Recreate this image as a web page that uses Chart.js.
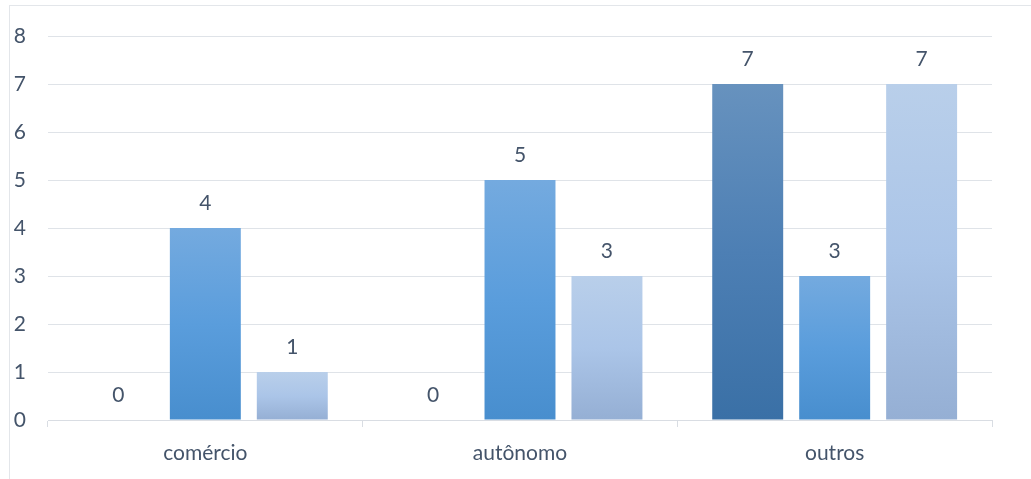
<!DOCTYPE html>
<html>
<head>
<meta charset="utf-8">
<script src="https://cdn.jsdelivr.net/npm/chart.js@4.4.1/dist/chart.umd.min.js"></script>
<style>
  html, body { margin: 0; padding: 0; background: #ffffff; overflow: hidden; }
  #wrap { position: relative; width: 1031px; height: 479px; }
  #frame { position: absolute; left: 9px; top: 5px; width: 1100px; height: 600px; border: 1px solid #e3e6ea; box-sizing: border-box; }
  canvas { position: absolute; left: 0; top: 0; }
</style>
</head>
<body>
<div id="wrap">
  <div id="frame"></div>
  <canvas id="c" width="1031" height="479"></canvas>
</div>
<script>
const categories = ["comércio", "autônomo", "outros"];
const seriesNames = ["Série 1", "Série 2", "Série 3"];
const series1 = [0, 0, 7];
const series2 = [4, 5, 3];
const series3 = [1, 3, 7];
const yTicks = [0, 1, 2, 3, 4, 5, 6, 7, 8];

const TEXT = "#44546A";
const FONT = "Lato, 'Open Sans', sans-serif";
const FONT_SIZE = 21;

function gradient(stops) {
  return function (ctx) {
    const chart = ctx.chart;
    const y = chart.scales && chart.scales.y;
    if (!y || ctx.raw == null || y.top === undefined) return stops[stops.length - 1][1];
    const top = y.getPixelForValue(ctx.raw);
    const bot = y.getPixelForValue(0);
    if (!isFinite(top) || !isFinite(bot) || Math.abs(bot - top) < 1) return stops[stops.length - 1][1];
    const g = chart.ctx.createLinearGradient(0, top, 0, bot);
    stops.forEach(s => g.addColorStop(s[0], s[1]));
    return g;
  };
}

const dataLabels = {
  id: "dataLabels",
  afterDatasetsDraw(chart) {
    const c = chart.ctx;
    c.save();
    c.fillStyle = TEXT;
    c.font = FONT_SIZE + "px " + FONT;
    c.textAlign = "center";
    c.textBaseline = "middle";
    chart.data.datasets.forEach((ds, i) => {
      const meta = chart.getDatasetMeta(i);
      meta.data.forEach((el, j) => {
        c.fillText(String(ds.data[j]), el.x, el.y - 25);
      });
    });
    c.restore();
  }
};

new Chart(document.getElementById("c"), {
  type: "bar",
  data: {
    labels: categories,
    datasets: [
      { label: seriesNames[0], data: series1,
        backgroundColor: gradient([[0, "#6792be"], [0.5, "#4d7fb4"], [1, "#3a70a6"]]) },
      { label: seriesNames[1], data: series2,
        backgroundColor: gradient([[0, "#74aadf"], [0.5, "#5a9ddc"], [1, "#488ece"]]) },
      { label: seriesNames[2], data: series3,
        backgroundColor: gradient([[0, "#b9cfea"], [0.5, "#abc5e8"], [1, "#95afd4"]]) }
    ]
  },
  options: {
    responsive: false,
    animation: false,
    events: [],
    devicePixelRatio: 1,
    layout: { padding: { top: 36, right: 39, left: 0, bottom: 0 } },
    categoryPercentage: 0.829,
    barPercentage: 0.816,
    plugins: { legend: { display: false }, tooltip: { enabled: false } },
    scales: {
      x: {
        grid: { display: true, drawOnChartArea: false, drawTicks: true, tickLength: 7, color: "#d9dde3", offset: true },
        border: { display: true, color: "#d9dde3", width: 1 },
        ticks: { color: TEXT, font: { family: FONT, size: FONT_SIZE }, padding: 14 },
        afterFit(s) { s.height = 59; }
      },
      y: {
        min: 0, max: 8,
        afterBuildTicks(s) { s.ticks = yTicks.map(v => ({ value: v })); },
        grid: { color: "#dfe3e8", drawTicks: false, lineWidth: 1 },
        border: { display: false },
        ticks: { color: TEXT, font: { family: FONT, size: FONT_SIZE }, padding: 22 },
        afterFit(s) { s.width = 48; }
      }
    }
  },
  plugins: [dataLabels]
});
</script>
</body>
</html>
